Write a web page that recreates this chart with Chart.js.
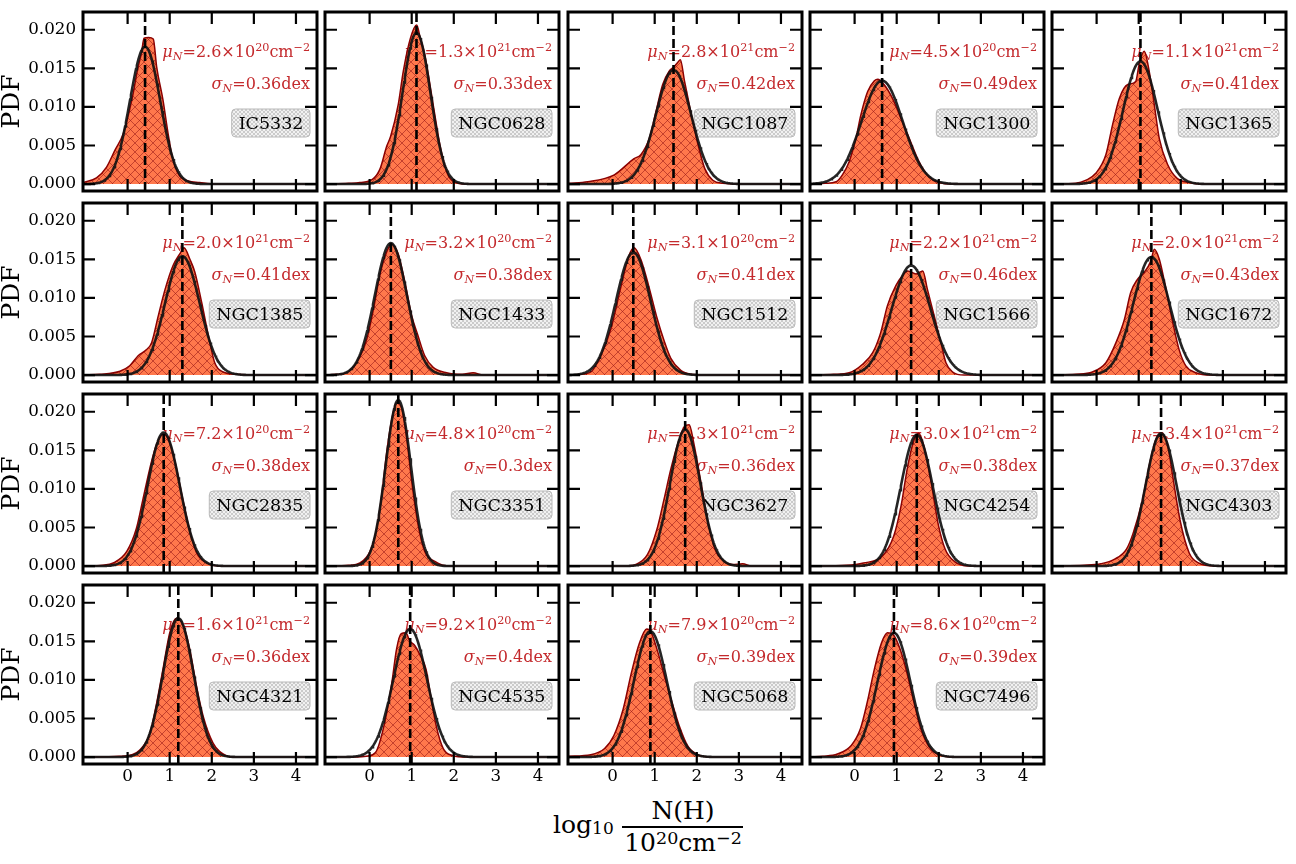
<!DOCTYPE html>
<html><head><meta charset="utf-8">
<script src="https://cdn.jsdelivr.net/npm/chart.js@4.4.1/dist/chart.umd.min.js"></script>
<style>
html,body{margin:0;padding:0;background:#fff;width:1296px;height:864px;overflow:hidden;}
#fig{position:relative;width:1296px;height:864px;background:#fff;}
canvas.pc{position:absolute;}
.xl{position:absolute;font-family:'DejaVu Serif';font-size:25px;line-height:25px;color:#000;white-space:nowrap;}
.xl sub{font-size:0.68em;vertical-align:-0.06em;line-height:0;}
.xl sup{font-size:0.7em;vertical-align:0.42em;line-height:0;}
</style></head><body>
<div id="fig">
  <div class="xl" style="left:553px;top:812px">log<sub>10</sub></div>
  <div class="xl" style="left:612px;top:798px;width:142px;text-align:center">N(H)</div>
  <div style="position:absolute;left:622px;top:826px;width:121px;height:1.6px;background:#000"></div>
  <div class="xl" style="left:612px;top:830px;width:142px;text-align:center">10<sup>20</sup>cm<sup>−2</sup></div>
</div>
<script>
// ---------------- data ----------------
const galaxies   = ['IC5332','NGC0628','NGC1087','NGC1300','NGC1365','NGC1385','NGC1433','NGC1512','NGC1566','NGC1672',
                    'NGC2835','NGC3351','NGC3627','NGC4254','NGC4303','NGC4321','NGC4535','NGC5068','NGC7496'];
const muMantissa = ['2.6','1.3','2.8','4.5','1.1','2.0','3.2','3.1','2.2','2.0','7.2','4.8','5.3','3.0','3.4','1.6','9.2','7.9','8.6'];
const muExponent = ['20','21','21','20','21','21','20','20','21','21','20','20','21','21','21','21','20','20','20'];
const sigmaDex   = ['0.36','0.33','0.42','0.49','0.41','0.41','0.38','0.41','0.46','0.43','0.38','0.3','0.36','0.38','0.37','0.36','0.4','0.39','0.39'];
const gaussPeak  = [0.0178,0.0196,0.0148,0.0134,0.0159,0.0154,0.0171,0.0159,0.0142,0.0153,0.0173,0.0215,0.0177,0.0170,0.0172,0.0180,0.0166,0.0163,0.0161];

const kde_IC5332  = [[-1.05,0.0002],[-0.74,0.0008],[-0.50,0.0022],[-0.30,0.0044],[-0.10,0.0066],[0.10,0.0109],[0.25,0.0152],[0.33,0.0170],[0.39,0.0189],[0.50,0.0190],[0.61,0.0188],[0.69,0.0152],[0.84,0.0109],[0.96,0.0066],[1.08,0.0031],[1.28,0.0008],[1.71,0.0002],[2.1,0],[4.5,0]];
const kde_NGC0628 = [[-1.05,0],[-0.5,0.0001],[-0.23,0.0002],[0.09,0.0007],[0.25,0.0020],[0.40,0.0048],[0.50,0.0062],[0.68,0.0103],[0.80,0.0146],[0.97,0.0189],[1.12,0.0206],[1.20,0.0190],[1.31,0.0168],[1.51,0.0103],[1.67,0.0051],[1.83,0.0016],[2.0,0.0003],[2.3,0],[4.5,0]];
const kde_NGC1087 = [[-1.05,0.0001],[-0.59,0.0003],[0.04,0.0012],[0.51,0.0033],[0.67,0.0038],[0.87,0.0059],[1.03,0.0094],[1.19,0.0129],[1.34,0.0146],[1.46,0.0152],[1.55,0.0158],[1.61,0.0161],[1.71,0.0133],[1.87,0.0090],[2.03,0.0051],[2.19,0.0020],[2.38,0.0005],[2.62,0.0001],[3.0,0],[4.5,0]];
const kde_NGC1300 = [[-1.05,0],[-0.7,0.0001],[-0.44,0.0003],[-0.29,0.0012],[-0.13,0.0029],[0.03,0.0059],[0.15,0.0090],[0.31,0.0120],[0.47,0.0134],[0.55,0.0136],[0.70,0.0129],[0.90,0.0111],[1.10,0.0085],[1.30,0.0059],[1.53,0.0029],[1.77,0.0009],[2.01,0.0002],[2.3,0],[4.5,0]];
const kde_NGC1365 = [[-1.05,0],[-0.5,0.0001],[-0.25,0.0005],[-0.02,0.0014],[0.22,0.0038],[0.38,0.0077],[0.54,0.0111],[0.74,0.0129],[0.93,0.0133],[1.01,0.0155],[1.13,0.0172],[1.25,0.0146],[1.37,0.0103],[1.49,0.0059],[1.69,0.0025],[1.92,0.0007],[2.20,0.0002],[2.5,0],[4.5,0]];
const kde_NGC1385 = [[-1.05,0],[-0.66,0.0001],[-0.18,0.0005],[0.05,0.0012],[0.25,0.0025],[0.45,0.0033],[0.57,0.0042],[0.73,0.0077],[0.89,0.0111],[1.08,0.0142],[1.24,0.0157],[1.34,0.0165],[1.48,0.0150],[1.60,0.0133],[1.76,0.0094],[1.92,0.0051],[2.07,0.0016],[2.27,0.0004],[2.59,0.0001],[3.0,0],[4.5,0]];
const kde_NGC1433 = [[-1.05,0],[-0.8,0.0001],[-0.55,0.0003],[-0.31,0.0016],[-0.07,0.0046],[0.09,0.0085],[0.24,0.0129],[0.40,0.0159],[0.52,0.0170],[0.68,0.0157],[0.84,0.0120],[1.00,0.0077],[1.15,0.0051],[1.31,0.0025],[1.51,0.0010],[1.83,0.0003],[2.2,0.0001],[2.46,0.0003],[2.7,0],[4.5,0]];
const kde_NGC1512 = [[-1.05,0],[-0.75,0.0001],[-0.50,0.0005],[-0.28,0.0025],[-0.04,0.0060],[0.20,0.0115],[0.39,0.0155],[0.51,0.0165],[0.67,0.0150],[0.86,0.0115],[1.05,0.0075],[1.22,0.0045],[1.38,0.0022],[1.62,0.0006],[1.86,0.0001],[2.2,0],[4.5,0]];
const kde_NGC1566 = [[-1.05,0],[-0.5,0.0001],[-0.13,0.0003],[0.19,0.0014],[0.43,0.0029],[0.62,0.0055],[0.78,0.0090],[0.98,0.0116],[1.14,0.0129],[1.26,0.0135],[1.46,0.0131],[1.62,0.0135],[1.73,0.0111],[1.89,0.0077],[2.05,0.0042],[2.17,0.0016],[2.33,0.0004],[2.6,0],[4.5,0]];
const kde_NGC1672 = [[-1.05,0],[-0.5,0.0001],[-0.10,0.0004],[0.22,0.0016],[0.46,0.0042],[0.66,0.0072],[0.81,0.0107],[0.97,0.0124],[1.13,0.0133],[1.29,0.0148],[1.37,0.0163],[1.49,0.0150],[1.65,0.0111],[1.81,0.0068],[1.96,0.0033],[2.12,0.0012],[2.36,0.0003],[2.7,0],[4.5,0]];
const kde_NGC2835 = [[-1.05,0],[-0.6,0.0001],[-0.34,0.0004],[-0.02,0.0019],[0.21,0.0049],[0.37,0.0088],[0.53,0.0127],[0.69,0.0158],[0.85,0.0171],[1.00,0.0160],[1.16,0.0127],[1.32,0.0084],[1.48,0.0045],[1.64,0.0017],[1.88,0.0004],[2.2,0],[4.5,0]];
const kde_NGC3351 = [[-1.05,0],[-0.5,0.0001],[-0.23,0.0004],[0.01,0.0019],[0.17,0.0049],[0.29,0.0093],[0.40,0.0145],[0.52,0.0188],[0.64,0.0212],[0.76,0.0205],[0.88,0.0166],[1.00,0.0110],[1.15,0.0054],[1.31,0.0019],[1.55,0.0006],[1.9,0],[4.5,0]];
const kde_NGC3627 = [[-1.05,0],[0.3,0],[0.55,0.0002],[0.83,0.0015],[1.05,0.0047],[1.22,0.0086],[1.38,0.0125],[1.55,0.0159],[1.71,0.0181],[1.82,0.0183],[1.93,0.0159],[2.10,0.0108],[2.27,0.0056],[2.43,0.0022],[2.65,0.0006],[2.85,0.0002],[3.09,0.0003],[3.3,0],[4.5,0]];
const kde_NGC4254 = [[-1.05,0],[-0.2,0.0001],[0.21,0.0004],[0.66,0.0013],[0.93,0.0039],[1.10,0.0077],[1.26,0.0129],[1.41,0.0163],[1.52,0.0172],[1.65,0.0155],[1.82,0.0108],[1.98,0.0056],[2.15,0.0022],[2.37,0.0006],[2.7,0],[4.5,0]];
const kde_NGC4303 = [[-1.05,0],[-0.3,0.0001],[0.10,0.0003],[0.43,0.0009],[0.71,0.0022],[0.87,0.0043],[1.09,0.0086],[1.26,0.0133],[1.40,0.0163],[1.54,0.0172],[1.68,0.0159],[1.81,0.0116],[1.98,0.0060],[2.20,0.0017],[2.42,0.0004],[2.8,0],[4.5,0]];
const kde_NGC4321 = [[-1.05,0],[-0.2,0.0001],[0.10,0.0003],[0.29,0.0009],[0.53,0.0031],[0.69,0.0070],[0.85,0.0117],[1.00,0.0161],[1.16,0.0180],[1.32,0.0171],[1.48,0.0139],[1.64,0.0091],[1.80,0.0052],[2.03,0.0018],[2.19,0.0007],[2.5,0],[4.5,0]];
const kde_NGC4535 = [[-1.05,0],[-0.3,0],[-0.08,0.0001],[0.14,0.0006],[0.36,0.0045],[0.53,0.0097],[0.64,0.0140],[0.75,0.0160],[0.86,0.0161],[0.95,0.0151],[1.08,0.0144],[1.19,0.0133],[1.34,0.0114],[1.45,0.0080],[1.58,0.0041],[1.75,0.0011],[1.97,0.0002],[2.3,0],[4.5,0]];
const kde_NGC5068 = [[-1.05,0.0001],[-0.52,0.0003],[-0.19,0.0011],[0.03,0.0028],[0.25,0.0062],[0.45,0.0110],[0.64,0.0148],[0.81,0.0166],[0.92,0.0161],[1.08,0.0135],[1.25,0.0101],[1.41,0.0071],[1.58,0.0041],[1.80,0.0013],[2.08,0.0002],[2.4,0],[4.5,0]];
const kde_NGC7496 = [[-1.05,0],[-0.75,0.0001],[-0.41,0.0004],[-0.08,0.0015],[0.14,0.0037],[0.30,0.0071],[0.47,0.0114],[0.64,0.0148],[0.78,0.0161],[0.91,0.0159],[1.08,0.0140],[1.24,0.0110],[1.41,0.0071],[1.57,0.0037],[1.80,0.0011],[2.07,0.0002],[2.4,0],[4.5,0]];
const kdeCurves = [kde_IC5332,kde_NGC0628,kde_NGC1087,kde_NGC1300,kde_NGC1365,kde_NGC1385,kde_NGC1433,kde_NGC1512,kde_NGC1566,kde_NGC1672,
                   kde_NGC2835,kde_NGC3351,kde_NGC3627,kde_NGC4254,kde_NGC4303,kde_NGC4321,kde_NGC4535,kde_NGC5068,kde_NGC7496];

const xTicks = [0,1,2,3,4];
const yTicks = [0,0.005,0.010,0.015,0.020];

// ---------------- layout / style ----------------
const XMIN=-1.06, XMAX=4.5, YMIN=-0.0009, YMAX=0.0223;
const PW=234, PH=179, NCOL=5;
const colLeft = c => Math.round(83 + 242.25*c);
const rowTop  = r => 12 + 191*r;
const SERIF = "'DejaVu Serif'";
const RED = '#c42a2d';

function hatch(bg, line, size, lw){
  const c=document.createElement('canvas'); c.width=c.height=size;
  const g=c.getContext('2d');
  g.fillStyle=bg; g.fillRect(0,0,size,size);
  g.strokeStyle=line; g.lineWidth=lw; g.beginPath();
  g.moveTo(-1,-1); g.lineTo(size+1,size+1);
  g.moveTo(size+1,-1); g.lineTo(-1,size+1);
  g.stroke();
  return g.createPattern(c,'repeat');
}
const fillPattern = hatch('rgb(255,120,76)','rgba(150,20,20,0.55)',9,1);
const boxPattern  = hatch('rgba(238,238,238,0.85)','rgba(165,165,165,0.7)',4,0.7);

function drawMath(ctx, parts, xRight, base, size){
  const fnt = p => (p.i?'italic ':'') + (p.s? size*0.7 : size) + 'px ' + SERIF;
  let w=0;
  parts.forEach(p=>{ ctx.font=fnt(p); p.w=ctx.measureText(p.t).width; w+=p.w; });
  let x = xRight - w;
  ctx.textAlign='left'; ctx.textBaseline='alphabetic';
  parts.forEach(p=>{ ctx.font=fnt(p); ctx.fillText(p.t, x, base + (p.dy||0)); x+=p.w; });
}

const textPlugin = {
  id:'panelText',
  beforeDatasetsDraw(chart){
    const i = chart.options.plugins.panelText.idx;
    const a = chart.chartArea, ctx = chart.ctx;
    ctx.save();
    ctx.fillStyle = RED;
    drawMath(ctx, [{t:'μ',i:1},{t:'N',i:1,s:1,dy:3},{t:'='+muMantissa[i]+'×10'},{t:muExponent[i],s:1,dy:-6.5},{t:'cm'},{t:'−2',s:1,dy:-6.5}],
             a.right-7, a.top+45, 16);
    drawMath(ctx, [{t:'σ',i:1},{t:'N',i:1,s:1,dy:3},{t:'='+sigmaDex[i]+'dex'}], a.right-7, a.top+77, 16);
    // name box
    ctx.font = '17.5px '+SERIF;
    const tw = ctx.measureText(galaxies[i]).width;
    const bx1 = a.right-7, bx0 = bx1 - tw - 13.5, by0 = a.top+97, by1 = a.top+125;
    ctx.beginPath(); ctx.roundRect(bx0, by0, bx1-bx0, by1-by0, 4);
    ctx.fillStyle = boxPattern; ctx.fill();
    ctx.strokeStyle='rgba(185,185,185,1)'; ctx.lineWidth=1; ctx.stroke();
    ctx.fillStyle='#000'; ctx.textAlign='right'; ctx.textBaseline='alphabetic';
    ctx.fillText(galaxies[i], bx1-6.5, a.top+117);
    ctx.restore();
  }
};

const framePlugin = {
  id:'frameTicks',
  afterDraw(chart){
    const {ctx, chartArea:a} = chart; const x=chart.scales.x, y=chart.scales.y;
    ctx.save();
    ctx.strokeStyle='#000'; ctx.lineWidth=2.2; const L=12;
    ctx.beginPath();
    xTicks.forEach(v=>{ const px=x.getPixelForValue(v);
      ctx.moveTo(px,a.bottom); ctx.lineTo(px,a.bottom-L); ctx.moveTo(px,a.top); ctx.lineTo(px,a.top+L); });
    yTicks.forEach(v=>{ const py=y.getPixelForValue(v);
      ctx.moveTo(a.left,py); ctx.lineTo(a.left+L,py); ctx.moveTo(a.right,py); ctx.lineTo(a.right-L,py); });
    ctx.stroke();
    ctx.lineWidth=3; ctx.strokeRect(a.left,a.top,a.right-a.left,a.bottom-a.top);
    ctx.restore();
  }
};

const fig = document.getElementById('fig');
galaxies.forEach((name,i)=>{
  const r = Math.floor(i/NCOL), c = i%NCOL;
  const showY = c===0, showX = (r===3);
  const padL = showY ? 83 : 4, padT = 4, padR = 4, padB = showX ? 36 : 4;
  const cv = document.createElement('canvas');
  cv.className='pc';
  cv.width = PW+padL+padR; cv.height = PH+padT+padB;
  cv.style.left = (colLeft(c)-padL)+'px'; cv.style.top = (rowTop(r)-padT)+'px';
  cv.style.width = cv.width+'px'; cv.style.height = cv.height+'px';
  fig.appendChild(cv);

  const mean = Math.log10(parseFloat(muMantissa[i])) + (parseInt(muExponent[i])-20);
  const sig = parseFloat(sigmaDex[i]);
  const gauss = [];
  for (let k=0;k<=278;k++){ const xv = XMIN + k*0.02; gauss.push({x:xv, y:gaussPeak[i]*Math.exp(-0.5*((xv-mean)/sig)**2)}); }
  const kde = kdeCurves[i].map(p=>({x:p[0], y:p[1]}));

  new Chart(cv, {
    type:'line',
    data:{ datasets:[
      {data:[{x:mean,y:YMIN},{x:mean,y:YMAX}], borderColor:'#000', borderWidth:2.6, borderDash:[9,4], pointRadius:0, fill:false, order:0},
      {data:gauss, borderColor:'rgba(18,18,18,0.92)', borderWidth:2.6, pointRadius:0, fill:false, tension:0, order:1},
      {data:kde, borderColor:'#8b0000', borderWidth:1.5, backgroundColor:fillPattern, fill:'origin', pointRadius:0, cubicInterpolationMode:'monotone', order:2}
    ]},
    options:{
      responsive:false, animation:false, events:[],
      layout:{padding:{left:0, top:padT, right:padR, bottom:0}},
      plugins:{legend:{display:false}, tooltip:{enabled:false}, panelText:{idx:i}},
      scales:{
        x:{type:'linear', position:'bottom', min:XMIN, max:XMAX,
           afterBuildTicks:s=>{ s.ticks = xTicks.map(v=>({value:v})); },
           afterFit:s=>{ s.height=padB; s.paddingLeft=0; s.paddingRight=0; s.paddingTop=0; s.paddingBottom=0; },
           grid:{display:false, drawTicks:false, tickLength:0}, border:{display:false},
           ticks:{display:showX, autoSkip:false, maxRotation:0, padding:3, color:'#000',
                  font:{family:SERIF, size:16.7}, callback:v=>String(v)}},
        y:{type:'linear', position:'left', min:YMIN, max:YMAX,
           afterBuildTicks:s=>{ s.ticks = yTicks.map(v=>({value:v})); },
           afterFit:s=>{ s.width=padL; s.paddingLeft=0; s.paddingRight=0; s.paddingTop=0; s.paddingBottom=0; },
           grid:{display:false, drawTicks:false, tickLength:0}, border:{display:false},
           ticks:{display:showY, autoSkip:false, padding:7, color:'#000',
                  font:{family:SERIF, size:16.7}, callback:v=>v.toFixed(3)},
           title:{display:showY, text:'PDF', color:'#000', padding:{top:3,bottom:0}, font:{family:SERIF, size:25, lineHeight:0.76}}}
      }
    },
    plugins:[textPlugin, framePlugin]
  });
});
</script>
</body></html>
